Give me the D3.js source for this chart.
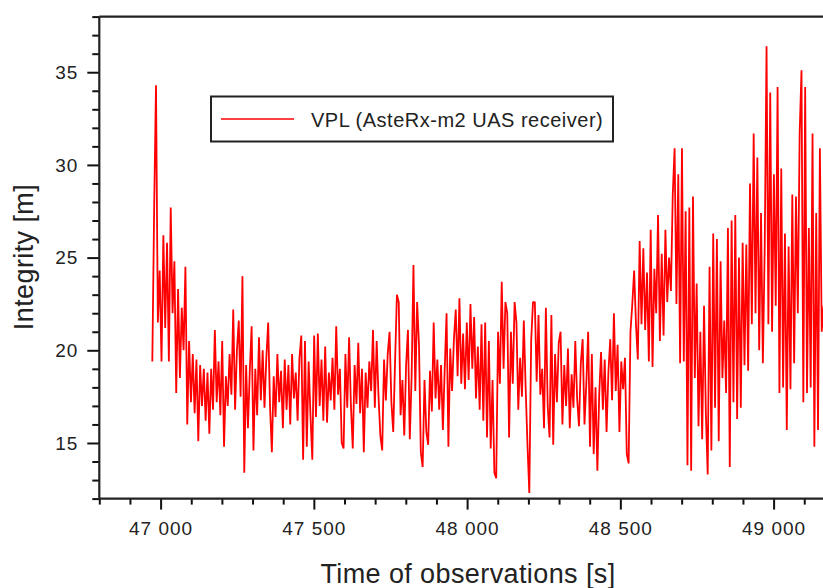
<!DOCTYPE html>
<html>
<head>
<meta charset="utf-8">
<script src="https://cdn.jsdelivr.net/npm/d3@7/dist/d3.min.js"></script>
<style>
  html, body { margin: 0; padding: 0; background: #fff; }
  svg { display: block; font-family: "Liberation Sans", Arial, sans-serif; }
</style>
</head>
<body>
<svg id="chart" width="823" height="588"></svg>
<script>
// ---- data ----
const seriesName = "VPL (AsteRx-m2 UAS receiver)";
const startTime = 46973;   // s, first sample
const sampleStep = 6;      // s between plotted samples
const vplValues = [
  19.4, 27.7, 34.3, 21.5, 24.3, 19.4, 26.2, 21.2, 25.8, 19.4, 27.7, 22.0, 24.8, 17.7, 23.3, 18.5, 22.3, 20.0, 24.5, 16.0,
  20.5, 17.2, 19.8, 16.6, 19.5, 15.1, 19.2,
  17.0, 19.0, 16.2, 18.8, 15.5, 19.0, 16.8, 21.1, 17.2, 19.4, 16.5, 20.5, 14.8, 18.6, 17.0, 19.8, 17.6, 22.2, 16.8, 20.0,
  21.6, 17.5, 24.0, 13.4, 19.2, 15.8, 18.9, 21.3, 14.6, 19.0, 16.5, 20.7, 17.3, 20.0, 16.9, 19.6, 21.5, 17.0, 14.5, 18.6,
  16.4, 19.8, 17.2, 18.9, 15.8, 19.5, 16.8, 19.2, 16.0, 19.8, 17.4, 18.8, 16.2, 19.6, 20.8, 14.1, 20.5, 14.8, 19.4, 16.5,
  14.1, 20.8,
  16.4, 20.9, 17.0, 19.5, 16.2, 20.2, 16.1, 18.8, 17.3, 19.6, 16.8, 21.3, 17.6, 19.0, 15.0, 14.7, 19.8, 16.9, 20.7, 17.0,
  14.7, 19.2, 17.1, 20.4, 16.6, 19.0, 14.5, 18.8, 16.9, 19.4, 17.8, 21.1, 16.9, 20.5, 17.5, 15.4, 14.6, 19.5, 17.3, 19.8,
  21.0, 17.2, 15.6, 19.4, 23.0, 22.6, 16.5, 18.4, 15.4, 19.2, 21.1, 15.2, 18.6, 24.6, 17.8, 22.6, 20.3, 14.5, 13.7, 18.4,
  15.6, 14.9, 18.9, 16.7, 21.5, 17.4, 19.5, 16.8, 19.2, 15.7, 19.0, 22.0, 14.8, 20.1, 17.8, 20.6, 22.2, 18.6, 22.8, 18.2,
  20.9, 17.9, 21.5, 18.4, 22.5, 19.0, 21.8, 17.4, 20.2, 16.8,
  21.4, 16.2, 21.5, 15.3, 20.5, 14.7, 18.4, 13.4, 13.1, 21.0, 18.2, 23.7, 19.0, 22.6, 22.0, 15.3, 21.0, 18.2, 22.6, 21.5,
  16.8, 19.6, 17.5, 21.6, 18.0, 14.9, 12.3, 20.5, 22.6, 22.6, 18.3, 21.9, 17.6, 19.0, 15.8, 22.3, 17.0, 15.3, 21.9, 14.9,
  19.8, 17.2, 20.4, 21.0, 16.0, 19.2, 17.0, 20.1, 15.8, 18.7, 16.9, 20.5, 17.4, 15.9, 19.3, 20.6, 16.0, 18.2, 21.0, 14.8,
  19.8, 14.4, 18.0, 13.5, 17.6, 19.9, 16.8, 19.5, 15.6, 18.8, 20.6, 17.3, 22.0, 17.8, 20.3, 15.6, 19.4, 17.9, 19.6, 14.4,
  13.9, 21.0, 22.5, 24.3, 21.4, 19.5, 25.9,
  21.4, 25.5, 21.1, 24.2, 19.4, 26.5, 19.1, 24.4, 22.0, 27.3, 20.5, 25.2, 20.8, 26.5, 22.6, 25.0, 23.2, 28.4, 30.9, 22.5,
  29.5, 19.3, 30.9, 19.4, 27.5, 13.8, 27.7, 13.5, 28.3, 18.5, 23.6, 15.9, 21.0, 15.2, 22.4, 16.6, 13.3, 24.5, 14.6, 26.3,
  16.9, 26.0, 15.1, 24.8, 18.5, 21.6, 17.7, 26.6, 13.7, 27.0, 17.2, 27.3, 16.3, 25.0, 16.9, 25.8, 19.2, 25.7, 18.9, 29.0,
  21.4, 31.7, 22.0, 30.4, 20.0, 27.4, 19.3, 25.5, 36.4, 21.4, 33.9, 21.0, 29.5, 22.4, 34.2, 17.7, 29.8, 18.0, 26.3, 15.7,
  25.6, 17.9, 28.4, 19.3, 28.3, 22.0, 31.7, 35.1, 17.2, 34.2, 17.7, 26.6, 18.0, 31.7, 14.8, 27.4, 15.7, 30.9, 21.0, 22.4
];
const xMajorTicks = [47000, 47500, 48000, 48500, 49000];
const yMajorTicks = [15, 20, 25, 30, 35];
const xTitle = "Time of observations [s]";
const yTitle = "Integrity [m]";

// ---- chart ----
const svg = d3.select("#chart");
const x = d3.scaleLinear().domain([46800, 49200]).range([99.3, 834.9]);
const y = d3.scaleLinear().domain([12, 38]).range([498.6, 16.6]);

const data = vplValues.map((v, i) => ({ t: startTime + i * sampleStep, v }));

const textColor = "#222";
const fmt = d => d3.format(",")(d).replace(/,/g, " ");

// clip for data
svg.append("defs").append("clipPath").attr("id", "plotclip")
  .append("rect").attr("x", x(46800)).attr("y", y(38)).attr("width", x(49200) - x(46800)).attr("height", y(12) - y(38));

// data line
svg.append("path")
  .datum(data)
  .attr("clip-path", "url(#plotclip)")
  .attr("fill", "none")
  .attr("stroke", "#ff0000")
  .attr("stroke-width", 1.8)
  .attr("stroke-linejoin", "miter")
  .attr("stroke-miterlimit", 1)
  .attr("d", d3.line().x(d => x(d.t)).y(d => y(d.v)));

// minor ticks
const xMinor = d3.range(46800, 49201, 100).filter(t => !xMajorTicks.includes(t));
const yMinor = d3.range(12, 38.01, 1).filter(v => !yMajorTicks.includes(v));

const gx = svg.append("g").attr("transform", `translate(0,${y(12)})`);
gx.call(d3.axisBottom(x).tickValues(xMinor).tickSize(6).tickSizeOuter(0).tickFormat(""));
gx.call(g => g.select(".domain").remove());
const gxM = svg.append("g").attr("transform", `translate(0,${y(12)})`);
gxM.call(d3.axisBottom(x).tickValues(xMajorTicks).tickSize(11).tickSizeOuter(0).tickFormat(fmt).tickPadding(12));
gxM.call(g => g.select(".domain").remove());

const gy = svg.append("g").attr("transform", `translate(${x(46800)},0)`);
gy.call(d3.axisLeft(y).tickValues(yMinor).tickSize(7).tickSizeOuter(0).tickFormat(""));
gy.call(g => g.select(".domain").remove());
const gyM = svg.append("g").attr("transform", `translate(${x(46800)},0)`);
gyM.call(d3.axisLeft(y).tickValues(yMajorTicks).tickSize(12).tickSizeOuter(0).tickPadding(9).tickFormat(d3.format("d")));
gyM.call(g => g.select(".domain").remove());

svg.selectAll(".tick line").attr("stroke", "#111").attr("stroke-width", 2);
svg.selectAll(".tick text")
  .attr("fill", textColor)
  .style("font-family", "'Liberation Sans', Arial, sans-serif")
  .style("font-size", "19px")
  .style("letter-spacing", "1px");

// frame
const frame = svg.append("g").attr("fill", "none").attr("stroke", "#222").attr("stroke-width", 2.2);
frame.append("line").attr("x1", x(46800)).attr("x2", x(46800)).attr("y1", y(38)).attr("y2", y(12));
frame.append("line").attr("x1", x(46800)).attr("x2", 823).attr("y1", y(12)).attr("y2", y(12));
frame.append("line").attr("x1", x(46800)).attr("x2", 823).attr("y1", y(38)).attr("y2", y(38));

// axis titles
svg.append("text")
  .attr("x", 468).attr("y", 583.3)
  .attr("text-anchor", "middle")
  .attr("fill", textColor)
  .style("font-size", "27px")
  .style("letter-spacing", "0.4px")
  .text(xTitle);
svg.append("text")
  .attr("transform", "translate(33,257) rotate(-90)")
  .attr("text-anchor", "middle")
  .attr("fill", textColor)
  .style("font-size", "27px")
  .style("letter-spacing", "0.4px")
  .text(yTitle);

// legend
const lg = svg.append("g");
lg.append("rect").attr("x", 211).attr("y", 96.5).attr("width", 402).attr("height", 45)
  .attr("fill", "#fff").attr("stroke", "#222").attr("stroke-width", 2);
lg.append("line").attr("x1", 221).attr("x2", 294).attr("y1", 119).attr("y2", 119)
  .attr("stroke", "#ff0000").attr("stroke-width", 1.6);
lg.append("text").attr("x", 311).attr("y", 126.5)
  .attr("fill", textColor)
  .style("font-size", "20px")
  .style("letter-spacing", "0.5px")
  .text(seriesName);
</script>
</body>
</html>
